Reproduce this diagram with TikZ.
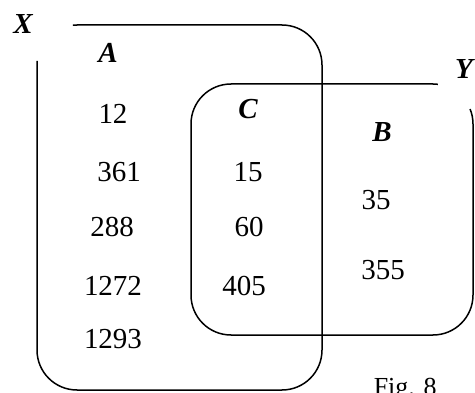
\documentclass[tikz,border=0pt]{standalone}
\usepackage{fontspec}
\setmainfont{Liberation Serif}
\usepackage{tikz}

\begin{document}
\begin{tikzpicture}[x=1pt,y=1pt,line width=1.5pt]
        \tikzset{setname/.style={font=\fontsize{29}{31}\selectfont\bfseries\itshape},
                 entry/.style={font=\fontsize{29}{31}\selectfont}}
        \useasboundingbox (0,0) rectangle (475,392);
        \clip (0,0) rectangle (475,392);

        % set X, open at the top left
        \draw ([shift={(174:40)}]77,327) arc (174:180:40) -- (37,42) arc (180:270:40) -- (282,2) arc (270:360:40)
              -- (322,327) arc (0:90:40) -- (77,367) arc (90:96:40);
        % set Y, open at the top right
        \draw ([shift={(83:40)}]433,268) arc (83:90:40) -- (231,308) arc (90:180:40) -- (191,97) arc (180:270:40)
              -- (433,57) arc (270:360:40) -- (473,268) arc (0:22:40);

        % set names
        \foreach \name/\x/\y/\txt in {labX/23/368/X,labY/464/323/Y,labA/108/339/A,labC/248/283/C,labB/382/260/B}{
            \node[setname] (\name) at (\x,\y) {\txt};
        }

        % members
        \foreach \name/\x/\y/\txt in {a12/113/278/12,a361/119/220/361,a288/112/165/288,a1272/113/106/1272,a1293/113/53/1293,
                                      c15/248/220/15,c60/249/165/60,c405/244/106/405,b35/376/192/35,b355/383/122/355}{
            \node[entry] (\name) at (\x,\y) {\txt};
        }

        \node[font=\fontsize{26}{28}\selectfont,anchor=base west,inner sep=0pt] (fig) at (373,-3.2) {Fig. 8};
    \end{tikzpicture}
\end{document}
